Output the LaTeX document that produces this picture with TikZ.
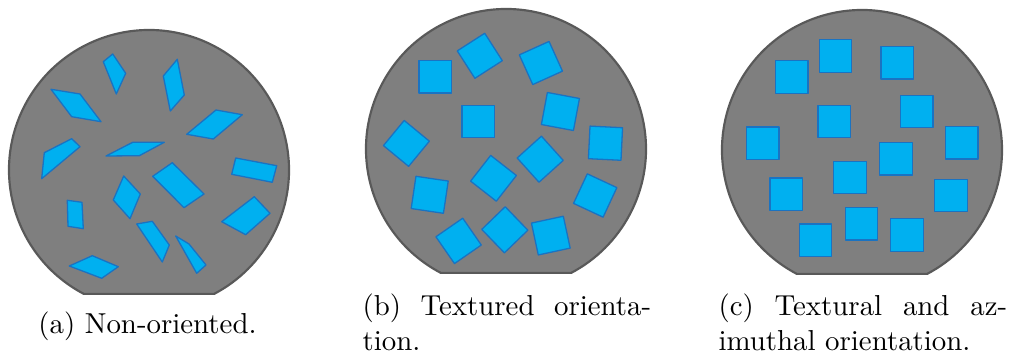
\documentclass[tikz,border=0pt]{standalone}
\usepackage{tikz}
\usetikzlibrary{positioning}
\definecolor{grainfill}{HTML}{7F7F7F}
\definecolor{grainline}{HTML}{595959}
\definecolor{crystalfill}{HTML}{00B0F0}
\definecolor{crystalline}{HTML}{1A73C2}

\begin{document}
\begin{tikzpicture}[
x=0.3465pt, y=-0.3465pt,
grain/.style={draw=grainline, fill=grainfill, line width=0.75pt},
crystal/.style={draw=crystalline, fill=crystalfill, line width=0.45pt, line join=round},
crystalsq/.style={crystal, rectangle, minimum size=11.3pt, inner sep=0pt},
caption/.style={text width=100pt, align=justify, font=\fontsize{10}{12}\selectfont},
]
\useasboundingbox (0,0) rectangle (1011,356);

% Grains
\draw[grain] (149,170) ++(117.8:140) arc[start angle=117.8, end angle=422.2, radius=140] -- cycle;
\draw[grain] (506,149) ++(117.8:140) arc[start angle=117.8, end angle=422.2, radius=140] -- cycle;
\draw[grain] (862,150) ++(117.8:140) arc[start angle=117.8, end angle=422.2, radius=140] -- cycle;

% Non-oriented crystals
\draw[crystal] (103.3,61.7) -- (112.7,54) -- (125.7,73.3) -- (116.3,94) -- cycle;
\draw[crystal] (163.3,76) -- (177.3,59.3) -- (184.3,95) -- (170.3,111) -- cycle;
\draw[crystal] (51,89.3) -- (80,94) -- (101,121.7) -- (71.7,116.7) -- cycle;
\draw[crystal] (186.7,134.3) -- (216,110) -- (242.3,114.7) -- (213.3,139) -- cycle;
\draw[crystal] (44.3,152.7) -- (71.7,138.7) -- (80,146.7) -- (41.7,178.7) -- cycle;
\draw[crystal] (106,156) -- (132.7,142.3) -- (164.3,142.3) -- (139.3,155.7) -- cycle;
\draw[crystal] (152.7,176.3) -- (172.3,162.7) -- (204,194) -- (184,207.7) -- cycle;
\draw[crystal] (235.7,158) -- (276.7,165.7) -- (272.3,182.3) -- (231.7,174.3) -- cycle;
\draw[crystal] (113.3,200) -- (123.7,176) -- (140.3,194) -- (130,218.7) -- cycle;
\draw[crystal] (67.3,200.3) -- (82,202.3) -- (83.3,228.7) -- (68,226.3) -- cycle;
\draw[crystal] (221.7,221.7) -- (254.3,196.7) -- (270,213.3) -- (245.7,234.7) -- cycle;
\draw[crystal] (136.7,224) -- (152.3,221.3) -- (169.3,245) -- (162.3,262) -- cycle;
\draw[crystal] (175.7,236) -- (189,244) -- (206,265) -- (196.7,273.3) -- cycle;
\draw[crystal] (69.3,266) -- (92.3,255.7) -- (118.3,266.7) -- (101.7,278.3) -- cycle;

% Textured crystals
\node[crystalsq] (b1) at (435.2,76.8) {};
\node[crystalsq, rotate=32.7] (b2) at (479.8,55.8) {};
\node[crystalsq, rotate=24.3] (b3) at (540.9,63) {};
\node[crystalsq] (b4) at (478.2,121.5) {};
\node[crystalsq, rotate=-10.6] (b5) at (560.4,111.5) {};
\node[crystalsq, rotate=-39.5] (b6) at (406.4,143.4) {};
\node[crystalsq, rotate=-2.8] (b7) at (605.5,143.2) {};
\node[crystalsq, rotate=42] (b8) at (540.2,159.2) {};
\node[crystalsq, rotate=-38] (b9) at (493.5,178.3) {};
\node[crystalsq, rotate=-8.4] (b10) at (429.7,194.8) {};
\node[crystalsq, rotate=-25] (b11) at (595.2,195.5) {};
\node[crystalsq, rotate=34.7] (b12) at (458.6,240.9) {};
\node[crystalsq, rotate=44] (b13) at (504.8,229.8) {};
\node[crystalsq, rotate=12.1] (b14) at (550.8,235.6) {};

% Textural and azimuthal crystals
\node[crystalsq] (c1) at (791.7,77) {};
\node[crystalsq] (c2) at (835.5,56) {};
\node[crystalsq] (c3) at (897.2,62.8) {};
\node[crystalsq] (c4) at (834.2,121.5) {};
\node[crystalsq] (c5) at (916.7,111.5) {};
\node[crystalsq] (c6) at (762.7,143.2) {};
\node[crystalsq] (c7) at (961.7,142.7) {};
\node[crystalsq] (c8) at (896,158.7) {};
\node[crystalsq] (c9) at (850,177.5) {};
\node[crystalsq] (c10) at (786.3,194.3) {};
\node[crystalsq] (c11) at (951,195.5) {};
\node[crystalsq] (c12) at (815.5,240.3) {};
\node[crystalsq] (c13) at (861.5,223.7) {};
\node[crystalsq] (c14) at (907,235) {};

% Captions
\node[anchor=base, font=\fontsize{10}{12}\selectfont] (capa) at (147.5,334) {(a) Non-oriented.};
\node[caption, anchor=base west, inner sep=0pt] (capb) at (362,316) {(b) Textured orienta-\linebreak tion.};
\node[caption, anchor=base west, inner sep=0pt] (capc) at (718,316) {(c) Textural and az-\linebreak imuthal orientation.};

\end{tikzpicture}
\end{document}
